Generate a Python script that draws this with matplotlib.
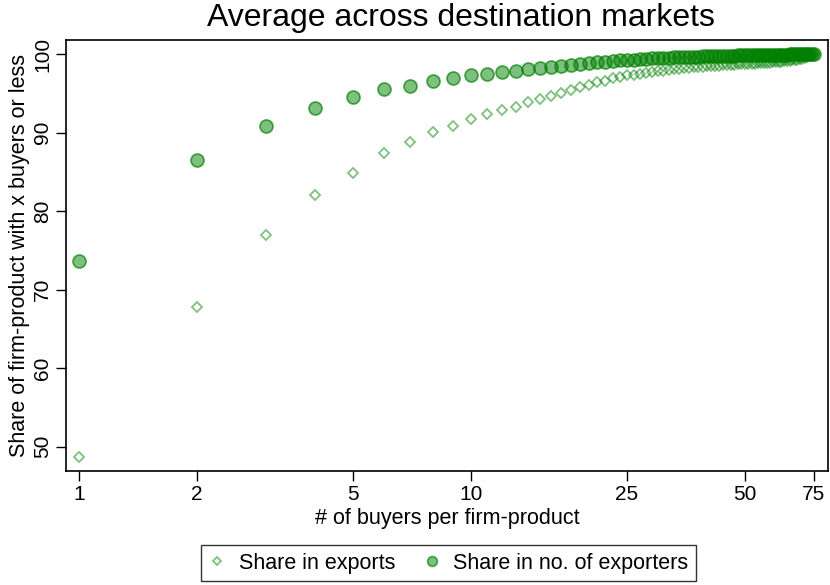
import matplotlib.pyplot as plt
import numpy as np

plt.rcParams['font.family'] = ['Liberation Sans', 'DejaVu Sans']

# number of buyers per firm-product (1..75)
buyers = list(range(1, 76))

# cumulative share in exports (%)
share_exports = [
    48.7, 67.8, 76.9, 82.1, 84.9, 87.4, 88.8, 90.1, 90.9, 91.8,
    92.4, 92.9, 93.3, 93.9, 94.3, 94.7, 95.1, 95.4, 95.75, 96.1,
    96.4, 96.6, 96.9, 97.1, 97.3, 97.4, 97.5, 97.6, 97.7, 97.8,
    97.9, 97.95, 98.05, 98.1, 98.2, 98.25, 98.3, 98.35, 98.4, 98.45,
    98.5, 98.52, 98.55, 98.58, 98.6, 98.62, 98.65, 98.68, 98.7, 98.72,
    98.75, 98.78, 98.8, 98.82, 98.85, 98.88, 98.9, 98.93, 98.96, 99.0,
    99.03, 99.06, 99.1, 99.13, 99.16, 99.2, 99.25, 99.3, 99.35, 99.42,
    99.5, 99.6, 99.7, 99.85, 100.0,
]

# cumulative share in number of exporters (%)
share_exporters = [
    73.6, 86.5, 90.9, 93.2, 94.5, 95.5, 96.0, 96.6, 96.9, 97.3,
    97.5, 97.7, 97.9, 98.1, 98.25, 98.4, 98.5, 98.65, 98.75, 98.85,
    98.95, 99.05, 99.1, 99.2, 99.25, 99.3, 99.35, 99.4, 99.45, 99.5,
    99.52, 99.55, 99.58, 99.6, 99.62, 99.65, 99.67, 99.69, 99.7, 99.72,
    99.74, 99.75, 99.77, 99.78, 99.8, 99.81, 99.82, 99.84, 99.85, 99.86,
    99.87, 99.88, 99.88, 99.89, 99.9, 99.9, 99.91, 99.92, 99.92, 99.93,
    99.94, 99.94, 99.95, 99.95, 99.96, 99.96, 99.97, 99.97, 99.98, 99.98,
    99.99, 99.99, 99.99, 100.0, 100.0,
]

xticks = [1, 2, 5, 10, 25, 50, 75]
yticks = [50, 60, 70, 80, 90, 100]

fig = plt.figure(figsize=(8.3, 5.85), dpi=100)
ax = fig.add_axes([66 / 830, 1 - 471 / 585, (828 - 66) / 830, (471 - 40) / 585])

green = (0.0, 0.5, 0.0)
ax.plot(buyers, share_exports, linestyle='none', marker='D', markersize=5.5,
        markerfacecolor='none', markeredgecolor=green + (0.5,),
        markeredgewidth=1.3, label='Share in exports')
ax.plot(buyers, share_exporters, linestyle='none', marker='o', markersize=9.3,
        markerfacecolor=green + (0.5,), markeredgecolor=green + (0.65,),
        markeredgewidth=1.3, label='Share in no. of exporters')

ax.set_xscale('log')
ax.set_xlim(0.926, 81.5)
ax.set_ylim(46.9, 101.8)
ax.set_xticks(xticks)
ax.set_xticklabels([str(t) for t in xticks])
ax.minorticks_off()
ax.set_yticks(yticks)
ax.set_yticklabels([str(t) for t in yticks], rotation=90, va='center')
ax.tick_params(labelsize=15, length=7, width=1, direction='out', pad=3)

for s in ax.spines.values():
    s.set_linewidth(1.2)

ax.set_xlabel('# of buyers per firm-product', fontsize=15.5, labelpad=3)
ax.set_ylabel('Share of firm-product with x buyers or less', fontsize=15.5, labelpad=2)

fig.text(461 / 830, 1 - 18 / 585, 'Average across destination markets',
         fontsize=23, ha='center', va='center')

fig.legend(loc='center', bbox_to_anchor=(448.5 / 830, 1 - 563 / 585), ncol=2,
           frameon=True, fancybox=False, edgecolor='black', fontsize=15.5,
           handletextpad=0.6, handlelength=0.8, columnspacing=1.3,
           borderpad=0.35, markerscale=0.75)

fig.savefig('out.png', dpi=100)
